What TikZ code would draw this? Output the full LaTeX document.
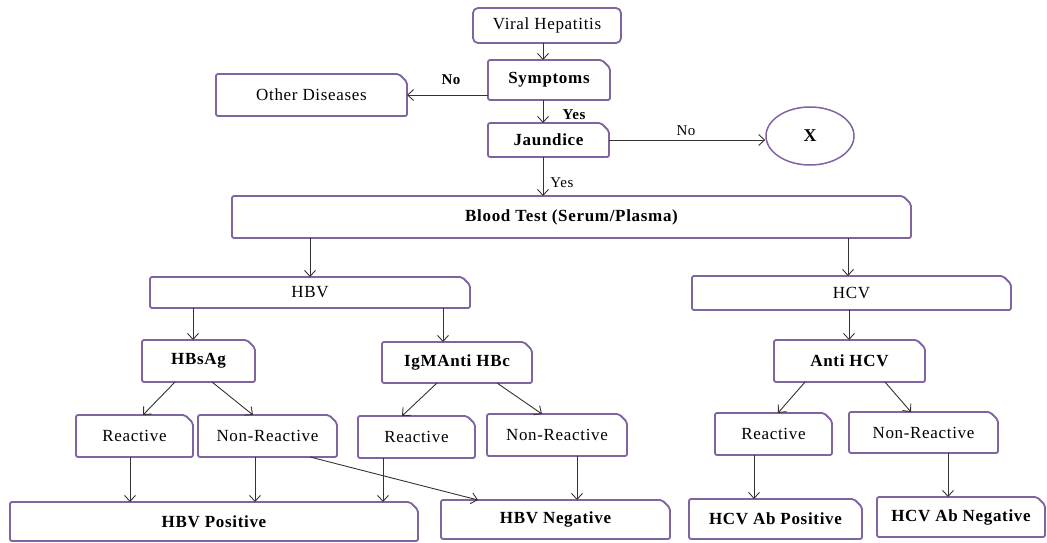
\documentclass[tikz,border=0pt]{standalone}
\usepackage{fontspec}
\setmainfont{Liberation Serif}[LetterSpace=4]
\usetikzlibrary{calc,arrows.meta,shapes.geometric}
\definecolor{boxpurple}{HTML}{8064A2}
\definecolor{linegray}{HTML}{333333}
\tikzset{
  boxtext/.style={inner sep=0pt, outer sep=0pt, align=center, font=\fontsize{17}{19}\selectfont},
  boldtext/.style={boxtext, font=\fontsize{17}{19}\selectfont\bfseries},
  boxline/.style={draw=boxpurple, line width=1.8pt, rounded corners=2pt},
  arr/.style={draw=linegray, line width=0.9pt, -{Straight Barb[length=6pt,width=11pt]}},
  lbl/.style={font=\fontsize{15}{17}\selectfont\bfseries, inner sep=0pt},
  lblr/.style={font=\fontsize{15}{17}\selectfont, inner sep=0pt}
}
% name, style, x1, y1, x2, y2, text
\newcommand\mybox[7]{%
  \node[#2, minimum width={#5-#3}, minimum height={#6-#4}] (#1) at ({(#3+#5)/2},{(#4+#6)/2}) {#7};
  \draw[boxline] (#1.south west) -- (#1.north west) -- ([xshift=-8pt]#1.north east) -- ([yshift=-8pt]#1.north east) -- (#1.south east) -- cycle;
}
% from bottom of #1 at x=#3 to top of #2 at x=#4
\newcommand\darr[4]{\draw[arr] ($(#1.south west)!(#3,0)!(#1.south east)$) -- ($(#2.north west)!(#4,0)!(#2.north east)$);}
\begin{document}
\begin{tikzpicture}[x=1pt,y=-1pt]
\useasboundingbox (0,0) rectangle (1047,543);
% top
\node[boxtext, minimum width=148, minimum height=35] (vh) at (547,25.5) {Viral Hepatitis};
\draw[boxline, rounded corners=5pt] (vh.south west) rectangle (vh.north east);
\mybox{symp}{boldtext}{488}{60}{610}{100}{Symptoms}
\mybox{other}{boxtext}{216}{74}{407}{116}{Other Diseases}
\mybox{jaund}{boldtext}{488}{123}{609}{157}{Jaundice}
\node[ellipse, draw=boxpurple, line width=1.5pt, minimum width=88, minimum height=58, inner sep=0pt, font=\fontsize{18}{20}\selectfont\bfseries] (X) at (810,136) {X};
\mybox{blood}{boldtext}{232}{196}{911}{238}{Blood Test (Serum/Plasma)}
\mybox{hbv}{boxtext}{150}{277}{470}{308}{HBV}
\mybox{hcv}{boxtext}{692}{276}{1011}{310}{HCV}
\mybox{hbsag}{boldtext}{142}{340}{255}{382}{HBsAg}
\mybox{igm}{boldtext}{382}{342}{532}{383}{IgMAnti HBc}
\mybox{antihcv}{boldtext}{774}{340}{925}{382}{Anti HCV}
\mybox{r1}{boxtext}{76}{415}{193}{457}{Reactive}
\mybox{n1}{boxtext}{198}{415}{337}{457}{Non-Reactive}
\mybox{r2}{boxtext}{358}{416}{475}{458}{Reactive}
\mybox{n2}{boxtext}{487}{414}{627}{456}{Non-Reactive}
\mybox{r3}{boxtext}{715}{413}{832}{455}{Reactive}
\mybox{n3}{boxtext}{849}{412}{998}{453}{Non-Reactive}
\mybox{pos}{boldtext}{10}{502}{418}{541}{HBV Positive}
\mybox{neg}{boldtext}{441}{500}{670}{539}{HBV Negative}
\mybox{hcvpos}{boldtext}{689}{499}{862}{539}{HCV Ab Positive}
\mybox{hcvneg}{boldtext}{877}{497}{1045}{537}{HCV Ab Negative}
% connectors
\darr{vh}{symp}{543}{543}
\darr{symp}{jaund}{543}{543}
\darr{jaund}{blood}{543}{543}
\draw[arr] ($(symp.north west)!(0,95)!(symp.south west)$) -- ($(other.north east)!(0,95)!(other.south east)$);
\draw[arr] (jaund.east) -- (jaund.east -| X.west);
\darr{blood}{hbv}{310}{310}
\darr{blood}{hcv}{848}{848}
\darr{hbv}{hbsag}{193}{193}
\darr{hbv}{igm}{443}{443}
\darr{hcv}{antihcv}{849}{849}
\darr{hbsag}{r1}{175}{143}
\darr{hbsag}{n1}{212}{253}
\darr{igm}{r2}{437}{402}
\darr{igm}{n2}{497}{542}
\darr{antihcv}{r3}{805}{778}
\darr{antihcv}{n3}{885}{911}
\darr{r1}{pos}{130}{130}
\darr{n1}{pos}{255}{255}
\darr{r2}{pos}{383}{383}
\darr{n1}{neg}{310}{478}
\darr{n2}{neg}{577}{577}
\darr{r3}{hcvpos}{754}{754}
\darr{n3}{hcvneg}{948}{948}
% labels
\node[lbl] (lno1) at (451,80) {No};
\node[lbl] (lyes1) at (574,115) {Yes};
\node[lblr] (lno2) at (686,131) {No};
\node[lblr] (lyes2) at (562,183) {Yes};
\end{tikzpicture}
\end{document}
